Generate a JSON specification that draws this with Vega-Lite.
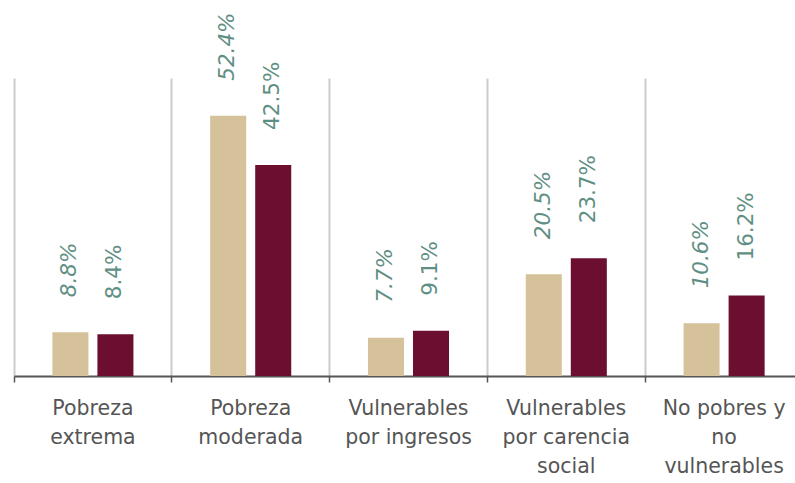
{
  "$schema": "https://vega.github.io/schema/vega-lite/v6.json",
  "width": 789,
  "height": 298,
  "autosize": {"type": "none"},
  "padding": {"left": 14, "top": 78, "right": 0, "bottom": 107},
  "background": "white",
  "config": {"view": {"stroke": null}, "font": "DejaVu Sans"},
  "data": {
    "values": [
      {"categoria": "Pobreza extrema", "serie": "A", "valor": 8.8},
      {"categoria": "Pobreza extrema", "serie": "B", "valor": 8.4},
      {"categoria": "Pobreza moderada", "serie": "A", "valor": 52.4},
      {"categoria": "Pobreza moderada", "serie": "B", "valor": 42.5},
      {"categoria": "Vulnerables por ingresos", "serie": "A", "valor": 7.7},
      {"categoria": "Vulnerables por ingresos", "serie": "B", "valor": 9.1},
      {"categoria": "Vulnerables por carencia social", "serie": "A", "valor": 20.5},
      {"categoria": "Vulnerables por carencia social", "serie": "B", "valor": 23.7},
      {"categoria": "No pobres y no vulnerables", "serie": "A", "valor": 10.6},
      {"categoria": "No pobres y no vulnerables", "serie": "B", "valor": 16.2}
    ]
  },
  "encoding": {
    "x": {
      "field": "categoria",
      "type": "nominal",
      "sort": null,
      "title": null,
      "scale": {"paddingInner": 0, "paddingOuter": 0},
      "axis": {
        "bandPosition": 0,
        "labelAngle": 0,
        "labelAlign": "center",
        "labelFontSize": 20.5,
        "labelColor": "#555555",
        "labelLineHeight": 29,
        "labelPadding": 16,
        "labelBaseline": "top",
        "labelBound": false,
        "labelOverlap": false,
        "labelLimit": 0,
        "labelExpr": "datum.value == 'Pobreza extrema' ? ['Pobreza','extrema'] : datum.value == 'Pobreza moderada' ? ['Pobreza','moderada'] : datum.value == 'Vulnerables por ingresos' ? ['Vulnerables','por ingresos'] : datum.value == 'Vulnerables por carencia social' ? ['Vulnerables','por carencia','social'] : ['No pobres y','no','vulnerables']",
        "grid": true,
        "gridColor": "#cccccc",
        "gridWidth": 2,
        "domainColor": "#555555",
        "domainWidth": 2,
        "tickColor": "#555555",
        "tickSize": 6,
        "tickWidth": 1.5
      }
    },
    "xOffset": {
      "field": "serie",
      "type": "nominal",
      "scale": {"paddingInner": 0.2, "paddingOuter": 0.852}
    },
    "y": {
      "field": "valor",
      "type": "quantitative",
      "scale": {"domain": [0, 60]},
      "axis": null
    }
  },
  "layer": [
    {
      "mark": {"type": "bar"},
      "encoding": {
        "color": {
          "field": "serie",
          "type": "nominal",
          "scale": {"domain": ["A", "B"], "range": ["#d5c29b", "#6b0e30"]},
          "legend": null
        }
      }
    },
    {
      "transform": [
        {"filter": "datum.serie == 'A'"},
        {"calculate": "format(datum.valor, '.1f') + '%'", "as": "etiqueta"}
      ],
      "mark": {"type": "text", "angle": 270, "align": "left", "baseline": "middle", "dx": 35, "fontSize": 21.5, "fontStyle": "italic", "color": "#5f8f83"},
      "encoding": {"text": {"field": "etiqueta", "type": "nominal"}}
    },
    {
      "transform": [
        {"filter": "datum.serie == 'B'"},
        {"calculate": "format(datum.valor, '.1f') + '%'", "as": "etiqueta"}
      ],
      "mark": {"type": "text", "angle": 270, "align": "left", "baseline": "middle", "dx": 35, "fontSize": 21.5, "color": "#5f8f83"},
      "encoding": {"text": {"field": "etiqueta", "type": "nominal"}}
    }
  ]
}
